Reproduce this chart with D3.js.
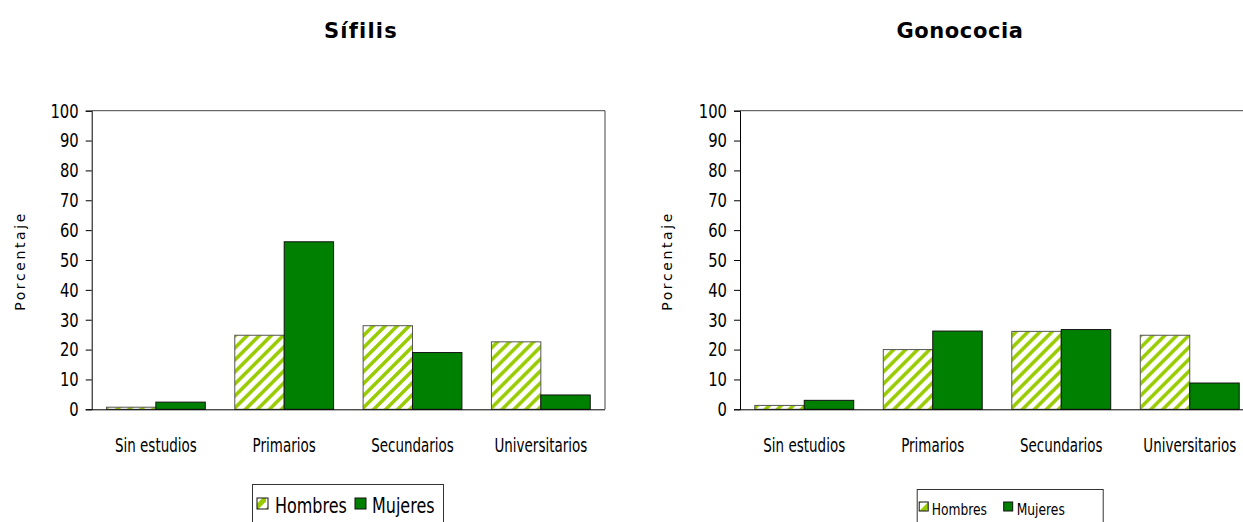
<!DOCTYPE html>
<html>
<head>
<meta charset="utf-8">
<script src="https://d3js.org/d3.v7.min.js"></script>
<style>
  body { margin: 0; background: #fff; }
  svg text { font-family: "DejaVu Sans", sans-serif; }
</style>
</head>
<body>
<div id="mainer"></div>
<script>
// datos
const categorias = ["Sin estudios", "Primarios", "Secundarios", "Universitarios"];
const series = ["Hombres", "Mujeres"];
const sifilisHombres = [0.7, 24.8, 28.0, 22.6];
const sifilisMujeres = [2.4, 56.1, 19.0, 4.8];
const gonoHombres = [1.3, 20.0, 26.1, 24.8];
const gonoMujeres = [3.0, 26.2, 26.7, 8.8];
const yTicks = [0, 10, 20, 30, 40, 50, 60, 70, 80, 90, 100];

const width = 1243, height = 522;
const svg = d3.select("#mainer").append("svg")
  .attr("width", width).attr("height", height);

// rayado de Hombres
const defs = svg.append("defs");
defs.append("pattern")
  .attr("id", "rayas")
  .attr("patternUnits", "userSpaceOnUse")
  .attr("width", 12).attr("height", 12)
  .call(p => {
    p.append("rect").attr("width", 12).attr("height", 12).attr("fill", "#fff");
    p.append("path")
      .attr("d", "M-3,15 L15,-3 M-9,9 L9,-9 M3,21 L21,3")
      .attr("stroke", "#99cc00").attr("stroke-width", 3.6);
  });
defs.append("pattern")
  .attr("id", "rayasMini")
  .attr("patternUnits", "userSpaceOnUse")
  .attr("width", 14).attr("height", 14)
  .call(p => {
    p.append("rect").attr("width", 14).attr("height", 14).attr("fill", "#fff");
    p.append("path").attr("d", "M-4,18 L18,-4").attr("stroke", "#99cc00").attr("stroke-width", 5);
  });

const colores = { Hombres: "url(#rayas)", Mujeres: "#008000" };
const bordes = { Hombres: "#555", Mujeres: "#111" };

function grafico(cfg) {
  const g = svg.append("g");
  const x = d3.scaleBand().domain(categorias).range([cfg.x0, cfg.x1])
    .paddingInner(0.23).paddingOuter(0.115);
  const xs = d3.scaleBand().domain(series).range([0, x.bandwidth()]);
  const y = d3.scaleLinear().domain([0, 100]).range([409.3, 110.7]);

  // marco
  g.append("path")
    .attr("d", `M${cfg.x0},${y(100)} H${cfg.x1} V${y(0)}`)
    .attr("fill", "none").attr("stroke", "#444").attr("stroke-width", 1);

  const filas = categorias.map((c, i) => ({ cat: c, Hombres: cfg.h[i], Mujeres: cfg.m[i] }));
  g.selectAll("g.cat").data(filas).enter().append("g")
    .attr("transform", d => `translate(${x(d.cat)},0)`)
    .selectAll("rect").data(d => series.map(s => ({ s: s, v: d[s] }))).enter()
    .append("rect")
    .attr("x", d => xs(d.s))
    .attr("y", d => y(d.v))
    .attr("width", xs.bandwidth())
    .attr("height", d => y(0) - y(d.v))
    .attr("fill", d => colores[d.s])
    .attr("stroke", d => bordes[d.s])
    .attr("stroke-width", 1);

  // eje y
  const ay = g.append("g").attr("transform", `translate(${cfg.x0},0)`)
    .call(d3.axisLeft(y).tickValues(yTicks).tickSize(6));
  ay.select(".domain").attr("stroke", "#000");
  ay.selectAll("text")
    .attr("x", 0)
    .attr("transform", "translate(-13,0) scale(0.74,1)")
    .style("font-size", "20px").attr("fill", "#000");

  // eje x
  const ax = g.append("g").attr("transform", `translate(0,${y(0)})`)
    .call(d3.axisBottom(x).tickSize(0));
  ax.select(".domain").attr("stroke", "#000").attr("d", `M${cfg.x0},0.5H${cfg.x1}`);
  ax.selectAll("text")
    .attr("y", 43).attr("dy", null)
    .attr("transform", "scale(0.71,1)")
    .style("font-size", "19px").attr("fill", "#000");

  // título
  g.append("text").attr("x", cfg.tx).attr("y", 38)
    .attr("text-anchor", "middle")
    .style("font-weight", "bold").style("font-size", "21px")
    .style("letter-spacing", cfg.tls)
    .text(cfg.titulo);

  g.append("text")
    .attr("transform", `translate(${cfg.lx},261) rotate(-90)`)
    .attr("text-anchor", "middle")
    .style("font-size", "14px")
    .style("letter-spacing", "2.6px")
    .text("Porcentaje");

  // leyenda
  const L = cfg.ley;
  const lg = g.append("g").attr("transform", `translate(${L.x},${L.y})`);
  lg.append("rect").attr("x", 0.5).attr("y", 0.5).attr("width", L.w).attr("height", 60)
    .attr("fill", "#fff").attr("stroke", "#333");
  series.forEach((s, i) => {
    lg.append("rect").attr("x", L.sx[i]).attr("y", L.sy)
      .attr("width", L.sw).attr("height", L.sw)
      .attr("fill", s === "Hombres" ? "url(#rayasMini)" : colores[s])
      .attr("stroke", "#111");
    lg.append("text")
      .attr("transform", `translate(${L.tx[i]},${L.ty}) scale(${L.k},1)`)
      .style("font-size", L.fs + "px").text(s);
  });
}

grafico({ titulo: "Sífilis", tls: "1.2px", h: sifilisHombres, m: sifilisMujeres,
  x0: 91.7, x1: 605, tx: 361, lx: 25,
  ley: { x: 252, y: 484, w: 191, sx: [5, 103], sy: 14, sw: 11, tx: [23, 120], ty: 29, fs: 20.5, k: 0.78 } });
grafico({ titulo: "Gonococia", tls: "0.6px", h: gonoHombres, m: gonoMujeres,
  x0: 740, x1: 1254, tx: 960, lx: 672,
  ley: { x: 916.7, y: 489, w: 186, sx: [2.5, 87], sy: 13, sw: 9, tx: [15, 100], ty: 26, fs: 15, k: 0.82 } });
</script>
</body>
</html>
